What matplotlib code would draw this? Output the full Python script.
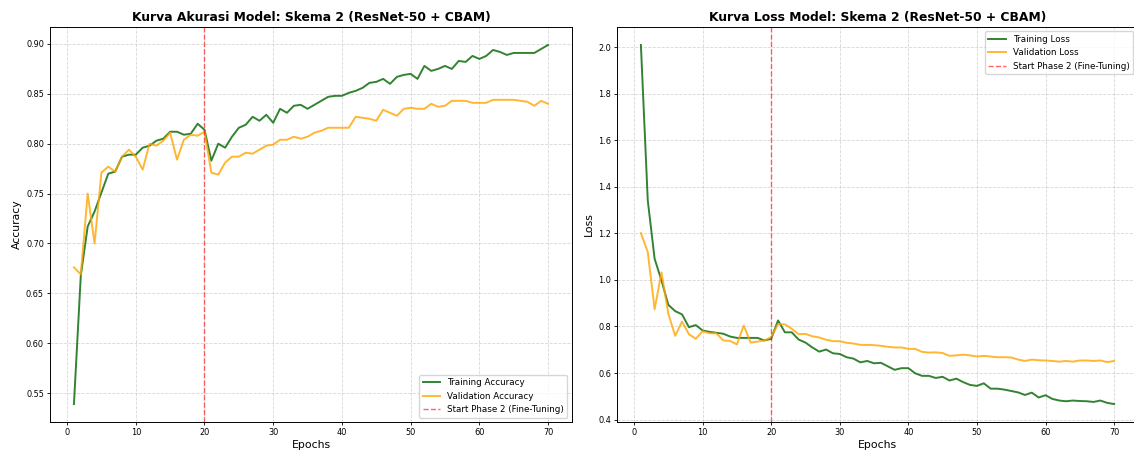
import numpy as np
import matplotlib
matplotlib.use('Agg')
import matplotlib.pyplot as plt

# data
epochs = np.arange(1, 71)
phase2_epoch = 20

train_acc = [0.539, 0.668, 0.717, 0.732, 0.751, 0.770, 0.772, 0.787, 0.789, 0.789,
             0.796, 0.798, 0.803, 0.805, 0.812, 0.812, 0.809, 0.810, 0.820, 0.814,
             0.783, 0.800, 0.796, 0.807, 0.816, 0.819, 0.827, 0.823, 0.829, 0.821,
             0.835, 0.831, 0.838, 0.839, 0.835, 0.839, 0.843, 0.847, 0.848, 0.848,
             0.851, 0.853, 0.856, 0.861, 0.862, 0.865, 0.860, 0.867, 0.869, 0.870,
             0.865, 0.878, 0.873, 0.875, 0.878, 0.875, 0.883, 0.882, 0.888, 0.885,
             0.888, 0.894, 0.892, 0.889, 0.891, 0.891, 0.891, 0.891, 0.895, 0.899]
val_acc = [0.676, 0.669, 0.750, 0.700, 0.771, 0.777, 0.772, 0.787, 0.794, 0.787,
           0.774, 0.800, 0.798, 0.803, 0.811, 0.784, 0.804, 0.809, 0.808, 0.812,
           0.771, 0.769, 0.781, 0.787, 0.787, 0.791, 0.790, 0.794, 0.798, 0.799,
           0.804, 0.804, 0.807, 0.805, 0.807, 0.811, 0.813, 0.816, 0.816, 0.816,
           0.816, 0.827, 0.826, 0.825, 0.823, 0.834, 0.831, 0.828, 0.835, 0.836,
           0.835, 0.835, 0.840, 0.837, 0.838, 0.843, 0.843, 0.843, 0.841, 0.841,
           0.841, 0.844, 0.844, 0.844, 0.844, 0.843, 0.842, 0.838, 0.843, 0.840]

train_loss = [2.009, 1.342, 1.091, 0.998, 0.893, 0.866, 0.852, 0.797, 0.806, 0.783,
              0.777, 0.773, 0.769, 0.757, 0.751, 0.751, 0.751, 0.751, 0.740, 0.747,
              0.826, 0.775, 0.775, 0.744, 0.731, 0.710, 0.692, 0.701, 0.685, 0.682,
              0.668, 0.662, 0.646, 0.652, 0.642, 0.644, 0.629, 0.614, 0.621, 0.621,
              0.599, 0.588, 0.588, 0.579, 0.584, 0.568, 0.576, 0.561, 0.549, 0.545,
              0.556, 0.533, 0.533, 0.529, 0.523, 0.517, 0.506, 0.516, 0.495, 0.505,
              0.489, 0.482, 0.479, 0.482, 0.480, 0.479, 0.476, 0.482, 0.472, 0.467]
val_loss = [1.201, 1.120, 0.874, 1.032, 0.855, 0.760, 0.821, 0.767, 0.747, 0.780,
            0.771, 0.771, 0.740, 0.738, 0.723, 0.804, 0.731, 0.735, 0.740, 0.754,
            0.811, 0.809, 0.790, 0.767, 0.768, 0.758, 0.753, 0.743, 0.737, 0.737,
            0.730, 0.727, 0.721, 0.721, 0.720, 0.717, 0.713, 0.710, 0.710, 0.704,
            0.704, 0.691, 0.688, 0.689, 0.686, 0.674, 0.676, 0.679, 0.676, 0.671,
            0.674, 0.671, 0.668, 0.668, 0.667, 0.658, 0.652, 0.658, 0.655, 0.654,
            0.652, 0.649, 0.652, 0.649, 0.654, 0.654, 0.652, 0.654, 0.647, 0.652]

fig = plt.figure(figsize=(11.34, 4.54), dpi=100)
ax1 = fig.add_axes([0.0443, 0.0705, 0.4599, 0.870])
ax2 = fig.add_axes([0.5443, 0.0705, 0.4590, 0.870])

lw = 1.4
title_fs, label_fs, tick_fs, leg_fs = 8.9, 7.8, 5.9, 6.3

# accuracy
ax1.plot(epochs, train_acc, color='darkgreen', alpha=0.8, lw=lw, label='Training Accuracy')
ax1.plot(epochs, val_acc, color='orange', alpha=0.8, lw=lw, label='Validation Accuracy')
ax1.axvline(phase2_epoch, color='red', linestyle='--', alpha=0.6, lw=1.0,
            label='Start Phase 2 (Fine-Tuning)')
ax1.set_title('Kurva Akurasi Model: Skema 2 (ResNet-50 + CBAM)', fontsize=title_fs,
              fontweight='bold', pad=4)
ax1.set_xlabel('Epochs', fontsize=label_fs, labelpad=2)
ax1.set_ylabel('Accuracy', fontsize=label_fs, labelpad=3)
ax1.legend(loc='lower right', fontsize=leg_fs)

# loss
ax2.plot(epochs, train_loss, color='darkgreen', alpha=0.8, lw=lw, label='Training Loss')
ax2.plot(epochs, val_loss, color='orange', alpha=0.8, lw=lw, label='Validation Loss')
ax2.axvline(phase2_epoch, color='red', linestyle='--', alpha=0.6, lw=1.0,
            label='Start Phase 2 (Fine-Tuning)')
ax2.set_title('Kurva Loss Model: Skema 2 (ResNet-50 + CBAM)', fontsize=title_fs,
              fontweight='bold', pad=4)
ax2.set_xlabel('Epochs', fontsize=label_fs, labelpad=2)
ax2.set_ylabel('Loss', fontsize=label_fs, labelpad=3)
ax2.legend(loc='upper right', fontsize=leg_fs)

for ax in (ax1, ax2):
    ax.grid(True, linestyle='--', alpha=0.5, lw=0.6)
    ax.tick_params(labelsize=tick_fs, length=2.5, width=0.6, pad=2)
    for s in ax.spines.values():
        s.set_linewidth(0.7)

fig.savefig('out.png', dpi=100)
